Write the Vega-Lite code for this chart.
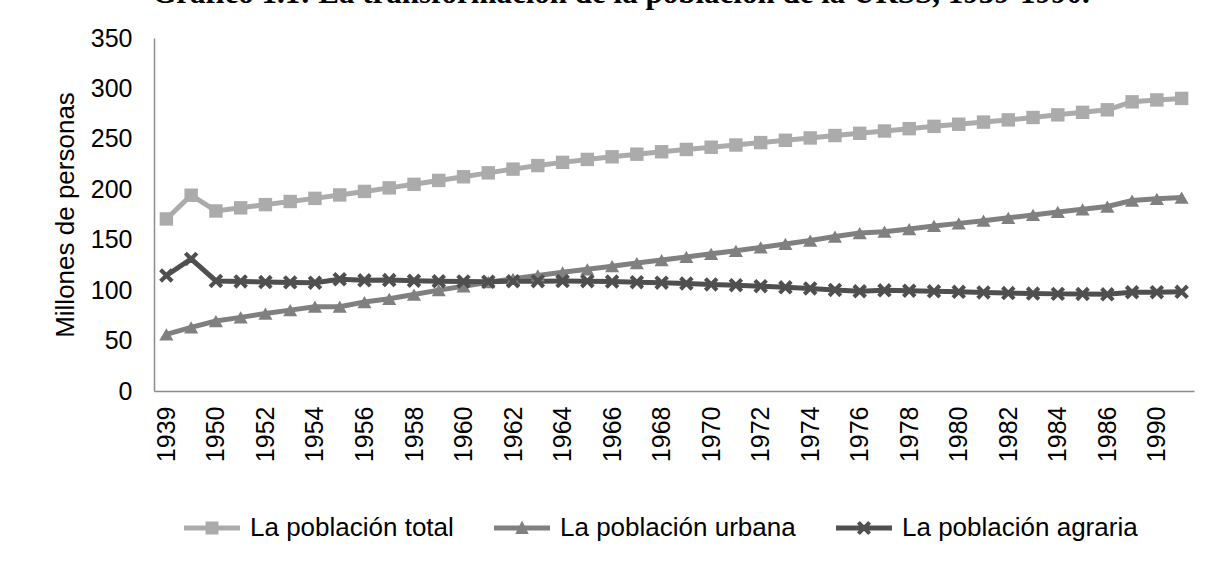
{
  "$schema": "https://vega.github.io/schema/vega-lite/v6.json",
  "width": 1040,
  "height": 353,
  "autosize": {"type": "none"},
  "padding": {"left": 154, "top": 38, "right": 29, "bottom": 189},
  "background": "white",
  "config": {"view": {"stroke": null}},
  "title": {
    "text": "Gráfico 1.1: La transformación de la población de la URSS, 1939-1990.",
    "font": "Liberation Serif",
    "fontSize": 31,
    "fontWeight": "bold",
    "color": "black",
    "anchor": "middle",
    "baseline": "alphabetic",
    "dx": -53,
    "dy": 26,
    "offset": 18
  },
  "data": {
    "values": [
      {"año": "1939", "La población total": 170.6, "La población urbana": 56.1, "La población agraria": 114.5},
      {"año": "1940", "La población total": 194.1, "La población urbana": 63.1, "La población agraria": 131.0},
      {"año": "1950", "La población total": 178.5, "La población urbana": 69.4, "La población agraria": 109.1},
      {"año": "1951", "La población total": 181.6, "La población urbana": 73.0, "La población agraria": 108.6},
      {"año": "1952", "La población total": 184.8, "La población urbana": 76.8, "La población agraria": 108.0},
      {"año": "1953", "La población total": 187.9, "La población urbana": 80.2, "La población agraria": 107.7},
      {"año": "1954", "La población total": 191.0, "La población urbana": 83.6, "La población agraria": 107.4},
      {"año": "1955", "La población total": 194.4, "La población urbana": 83.6, "La población agraria": 110.8},
      {"año": "1956", "La población total": 197.9, "La población urbana": 88.2, "La población agraria": 109.7},
      {"año": "1957", "La población total": 201.4, "La población urbana": 91.4, "La población agraria": 110.0},
      {"año": "1958", "La población total": 204.9, "La población urbana": 95.6, "La población agraria": 109.3},
      {"año": "1959", "La población total": 208.8, "La población urbana": 100.0, "La población agraria": 108.8},
      {"año": "1960", "La población total": 212.4, "La población urbana": 103.8, "La población agraria": 108.6},
      {"año": "1961", "La población total": 216.3, "La población urbana": 107.9, "La población agraria": 108.4},
      {"año": "1962", "La población total": 220.0, "La población urbana": 111.2, "La población agraria": 108.8},
      {"año": "1963", "La población total": 223.5, "La población urbana": 114.6, "La población agraria": 108.9},
      {"año": "1964", "La población total": 226.7, "La población urbana": 117.7, "La población agraria": 109.0},
      {"año": "1965", "La población total": 229.6, "La población urbana": 120.7, "La población agraria": 108.9},
      {"año": "1966", "La población total": 232.2, "La población urbana": 123.7, "La población agraria": 108.5},
      {"año": "1967", "La población total": 234.8, "La población urbana": 126.9, "La población agraria": 107.9},
      {"año": "1968", "La población total": 237.2, "La población urbana": 129.8, "La población agraria": 107.4},
      {"año": "1969", "La población total": 239.5, "La población urbana": 132.9, "La población agraria": 106.6},
      {"año": "1970", "La población total": 241.7, "La población urbana": 136.0, "La población agraria": 105.7},
      {"año": "1971", "La población total": 243.9, "La población urbana": 139.0, "La población agraria": 104.9},
      {"año": "1972", "La población total": 246.3, "La población urbana": 142.4, "La población agraria": 103.9},
      {"año": "1973", "La población total": 248.6, "La población urbana": 145.8, "La población agraria": 102.8},
      {"año": "1974", "La población total": 250.9, "La población urbana": 149.2, "La población agraria": 101.7},
      {"año": "1975", "La población total": 253.3, "La población urbana": 153.1, "La población agraria": 100.2},
      {"año": "1976", "La población total": 255.5, "La población urbana": 156.6, "La población agraria": 98.9},
      {"año": "1977", "La población total": 257.8, "La población urbana": 158.0, "La población agraria": 99.8},
      {"año": "1978", "La población total": 260.1, "La población urbana": 160.6, "La población agraria": 99.5},
      {"año": "1979", "La población total": 262.4, "La población urbana": 163.6, "La población agraria": 98.8},
      {"año": "1980", "La población total": 264.5, "La población urbana": 166.2, "La población agraria": 98.3},
      {"año": "1981", "La población total": 266.6, "La población urbana": 168.9, "La población agraria": 97.7},
      {"año": "1982", "La población total": 268.8, "La población urbana": 171.7, "La población agraria": 97.1},
      {"año": "1983", "La población total": 271.2, "La población urbana": 174.6, "La población agraria": 96.6},
      {"año": "1984", "La población total": 273.8, "La población urbana": 177.5, "La población agraria": 96.3},
      {"año": "1985", "La población total": 276.3, "La población urbana": 180.1, "La población agraria": 96.2},
      {"año": "1986", "La población total": 278.8, "La población urbana": 182.9, "La población agraria": 95.9},
      {"año": "1989", "La población total": 286.7, "La población urbana": 188.8, "La población agraria": 97.9},
      {"año": "1990", "La población total": 288.6, "La población urbana": 190.6, "La población agraria": 98.0},
      {"año": "1991", "La población total": 290.1, "La población urbana": 191.8, "La población agraria": 98.3}
    ]
  },
  "transform": [
    {"fold": ["La población total", "La población urbana", "La población agraria"], "as": ["serie", "valor"]}
  ],
  "encoding": {
    "x": {
      "field": "año",
      "type": "ordinal",
      "sort": null,
      "scale": {"type": "point", "padding": 0.5},
      "axis": {
        "title": null,
        "values": ["1939", "1950", "1952", "1954", "1956", "1958", "1960", "1962", "1964", "1966", "1968", "1970", "1972", "1974", "1976", "1978", "1980", "1982", "1984", "1986", "1990"],
        "labelAngle": -90,
        "labelFont": "Liberation Sans",
        "labelFontSize": 25,
        "labelColor": "black",
        "labelPadding": 15,
        "ticks": false,
        "domainColor": "#8C8C8C",
        "domainWidth": 1.5,
        "grid": false
      }
    },
    "y": {
      "field": "valor",
      "type": "quantitative",
      "scale": {"domain": [0, 350], "nice": false},
      "axis": {
        "title": "Millones de personas",
        "titleFont": "Liberation Sans",
        "titleFontSize": 26,
        "titleFontWeight": "normal",
        "titleColor": "black",
        "titleX": -89,
        "titleY": 176.5,
        "titleAngle": -90,
        "titleAlign": "center",
        "titleBaseline": "middle",
        "values": [0, 50, 100, 150, 200, 250, 300, 350],
        "labelFont": "Liberation Sans",
        "labelFontSize": 25,
        "labelColor": "black",
        "labelPadding": 22,
        "ticks": false,
        "grid": false,
        "domainColor": "#8C8C8C",
        "domainWidth": 1.5
      }
    },
    "color": {
      "field": "serie",
      "type": "nominal",
      "sort": ["La población total", "La población urbana", "La población agraria"],
      "scale": {
        "domain": ["La población total", "La población urbana", "La población agraria"],
        "range": ["#ABABAB", "#808080", "#4F4F4F"]
      },
      "legend": {
        "title": null,
        "orient": "none",
        "legendX": 30,
        "legendY": 462,
        "direction": "horizontal",
        "padding": 0,
        "labelFont": "Liberation Sans",
        "labelFontSize": 26,
        "labelColor": "black",
        "labelLimit": 400,
        "labelOffset": 10,
        "columnPadding": 40,
        "symbolSize": 3136,
        "symbolStrokeWidth": 0,
        "encode": {
          "symbols": {
            "update": {
              "shape": {"signal": "datum.value === 'La población total' ? 'M-1,-0.09H1V0.09H-1Z M-0.23,-0.23H0.23V0.23H-0.23Z' : datum.value === 'La población urbana' ? 'M-1,-0.09H1V0.09H-1Z M0,-0.27L0.24,0.21L-0.24,0.21Z' : 'M-1,-0.09H1V0.09H-1Z M-0.25,-0.15L-0.15,-0.25L0,-0.1L0.15,-0.25L0.25,-0.15L0.1,0L0.25,0.15L0.15,0.25L0,0.1L-0.15,0.25L-0.25,0.15L-0.1,0Z'"},
              "fill": {"signal": "datum.value === 'La población total' ? '#ABABAB' : datum.value === 'La población urbana' ? '#808080' : '#4F4F4F'"},
              "fillOpacity": {"value": 1},
              "strokeWidth": {"value": 0},
              "size": {"value": 3136}
            }
          }
        }
      }
    }
  },
  "layer": [
    {"mark": {"type": "line", "strokeWidth": 5}},
    {
      "transform": [{"filter": "datum.serie === 'La población total'"}],
      "mark": {"type": "point", "filled": true, "opacity": 1, "size": 180, "shape": "square"}
    },
    {
      "transform": [{"filter": "datum.serie === 'La población urbana'"}],
      "mark": {"type": "point", "filled": true, "opacity": 1, "size": 200, "shape": "triangle-up"}
    },
    {
      "transform": [{"filter": "datum.serie === 'La población agraria'"}],
      "mark": {"type": "point", "filled": true, "opacity": 1, "size": 210, "shape": "M-1,-0.6L-0.6,-1L0,-0.4L0.6,-1L1,-0.6L0.4,0L1,0.6L0.6,1L0,0.4L-0.6,1L-1,0.6L-0.4,0Z"}
    }
  ]
}
